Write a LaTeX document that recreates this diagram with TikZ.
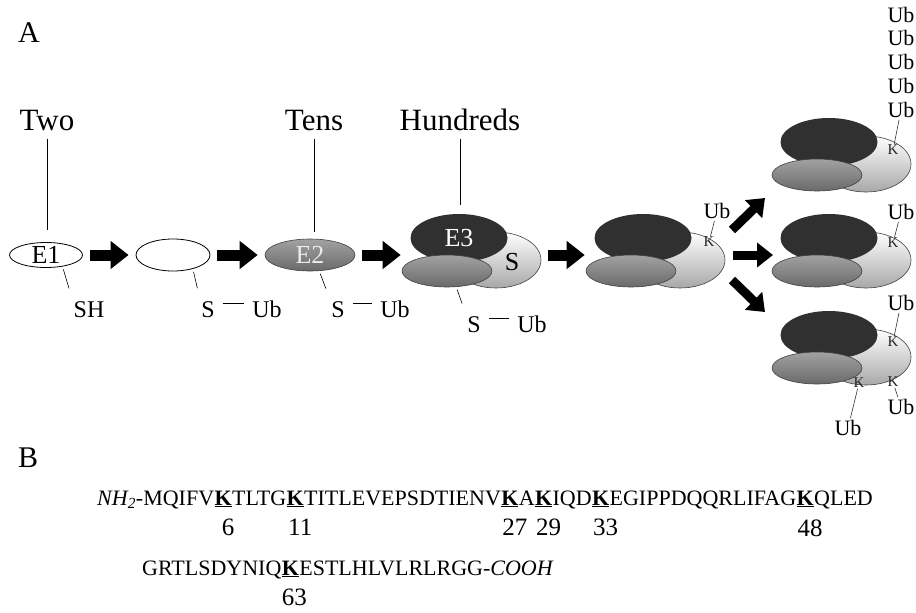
\documentclass[tikz,border=0pt]{standalone}
\usepackage{fontspec}
\setmainfont{Liberation Serif}
\usetikzlibrary{shapes.geometric, arrows.meta, positioning}
\definecolor{ligdark}{HTML}{303030}
\definecolor{conjdark}{HTML}{6A6A6A}
\definecolor{conjlight}{HTML}{A2A2A2}
\definecolor{subdark}{HTML}{A8A8A8}
\definecolor{edgegray}{HTML}{404040}

\tikzset{
  pics/complex/.style 2 args={code={
    \node[substrate] (-sub) at (37,22) {};
    \node[ligase] (-lig) at (0,0) {#1};
    \node[carrier] (-car) at (-12,33) {};
    \node[sublbl] (-slbl) at (53,24) {#2};
  }}
}

\begin{document}
\begin{tikzpicture}[
    x=1pt, y=-1pt,
    ligase/.style={ellipse, fill=ligdark, minimum width=97pt, minimum height=48pt, inner sep=0pt, text=white, font=\fontsize{26}{30}\selectfont},
    substrate/.style={ellipse, draw=edgegray, line width=0.6pt, top color=white, bottom color=subdark, minimum width=90pt, minimum height=56pt, inner sep=0pt},
    carrier/.style={ellipse, draw=edgegray, line width=0.6pt, top color=conjlight, bottom color=conjdark, minimum width=90pt, minimum height=32pt, inner sep=0pt},
    sublbl/.style={inner sep=0pt, font=\fontsize{26}{30}\selectfont},
    enzyme/.style={ellipse, draw, line width=0.8pt, fill=white, inner sep=0pt, font=\fontsize{26}{30}\selectfont},
    bigarrow/.style={line width=11pt, -{Triangle[length=18pt, width=27pt]}, shorten <=7pt, shorten >=7pt},
    forkarrow/.style={line width=9pt, -{Triangle[length=16pt, width=24pt]}},
    panel/.style={inner sep=0pt, font=\fontsize{30}{36}\selectfont},
    count/.style={inner sep=0pt, font=\fontsize{31}{37}\selectfont},
    site/.style={inner sep=1pt, font=\fontsize{24}{28}\selectfont},
    ubl/.style={inner sep=1pt, font=\fontsize{22}{26}\selectfont},
    lysk/.style={inner sep=0.5pt, text=black!85, font=\fontsize{15}{17}\selectfont},
    seq/.style={inner sep=0pt, anchor=base west, font=\fontsize{22}{26}\selectfont},
    lys/.style={seq, font=\fontsize{22}{26}\selectfont\bfseries},
    resnum/.style={inner sep=0pt, font=\fontsize{25}{30}\selectfont},
    stem/.style={line width=0.6pt},
    tick/.style={line width=0.6pt, shorten <=3pt, shorten >=12pt},
    bond/.style={line width=0.6pt, shorten <=7pt, shorten >=7pt},
    ktick/.style={line width=0.6pt, draw=black!80, shorten <=1pt, shorten >=0pt}
]
    \useasboundingbox (0,0) rectangle (916,613);

    % panel A
    \node[panel, anchor=base west] (pa) at (18,42) {A};
    \node[count, anchor=base] (two) at (47,130) {Two};
    \node[count, anchor=base] (tens) at (314,130) {Tens};
    \node[count, anchor=base] (hund) at (460,130) {Hundreds};

    \node[enzyme, minimum width=73pt, minimum height=25pt] (e1) at (46,255) {E1};
    \node[enzyme, minimum width=74pt, minimum height=32pt] (free) at (173,255) {};
    \node[carrier, text=white!92!black, font=\fontsize{26}{30}\selectfont] (e2) at (310,255) {E2};

    \pic (c1) at (459,238) {complex={E3}{S}};
    \pic (c2) at (643,238) {complex={}{}};
    \pic (c3) at (829,142) {complex={}{}};
    \pic (c4) at (829,238) {complex={}{}};
    \pic (c5) at (829,335) {complex={}{}};

    \draw[stem, shorten <=8pt, shorten >=12pt] (two.south) -- (two.south |- e1.north);
    \draw[stem, shorten <=8pt, shorten >=7pt] (tens.south) -- (tens.south |- e2.north);
    \draw[stem, shorten <=8pt, shorten >=9pt] (hund.south) -- (hund.south |- c1-lig.north);

    % thioester sites
    \node[site, anchor=base] (sh) at (89,317) {SH};
    \node[site, anchor=base] (s1) at (208,317) {S};
    \node[site, anchor=base] (u1) at (267,317) {Ub};
    \node[site, anchor=base] (s2) at (338,317) {S};
    \node[site, anchor=base] (u2) at (395,317) {Ub};
    \node[site, anchor=base] (s3) at (474,332) {S};
    \node[site, anchor=base] (u3) at (532,332) {Ub};

    \draw[tick] (e1.-35) -- (sh.north west);
    \draw[tick] (free.-35) -- (s1.north west);
    \draw[tick] (e2.-60) -- (s2.north west);
    \draw[tick] (c1-car.-60) -- (s3.north west);
    \draw[bond] ([yshift=14pt]s1.base east) -- ([yshift=14pt]u1.base west);
    \draw[bond] ([yshift=14pt]s2.base east) -- ([yshift=14pt]u2.base west);
    \draw[bond] ([yshift=14pt]s3.base east) -- ([yshift=14pt]u3.base west);

    % main cascade arrows
    \draw[bigarrow] (e1) -- (free);
    \draw[bigarrow] (free) -- (e2);
    \draw[bigarrow, shorten >=1pt] (e2.east) -- (e2.east -| c1-car.west);
    \draw[bigarrow, shorten >=1pt] (c1-sub.east |- e2.east) -- (c2-car.west |- e2.east);

    % branching to chains
    \coordinate (upS) at (732,230);
    \coordinate (upE) at (765,198);
    \coordinate (midS) at (733,255);
    \coordinate (midE) at (773,255);
    \coordinate (dnS) at (732,280);
    \coordinate (dnE) at (765,312);
    \draw[forkarrow] (upS) -- (upE);
    \draw[forkarrow] (midS) -- (midE);
    \draw[forkarrow] (dnS) -- (dnE);

    % lysines and ubiquitins
    \node[lysk] (kb) at (709,242) {K};
    \node[ubl] (ub) at (717,211) {Ub};
    \draw[ktick] (ub) -- (kb);

    \foreach \i/\yy in {1/15,2/38,3/62,4/86,5/110}
        \node[ubl] (ut\i) at (901,\yy) {Ub};
    \node[lysk] (kt) at (893,150) {K};
    \draw[ktick] (ut5) -- (kt);

    \node[lysk] (km) at (893,243) {K};
    \node[ubl] (um) at (901,212) {Ub};
    \draw[ktick] (um) -- (km);

    \node[lysk] (kd1) at (893,342) {K};
    \node[ubl] (ud1) at (901,303) {Ub};
    \draw[ktick] (ud1) -- (kd1);
    \node[lysk] (kd2) at (893,382) {K};
    \node[ubl] (ud2) at (901,407) {Ub};
    \draw[ktick] (ud2) -- (kd2);
    \node[lysk] (kd3) at (859,383) {K};
    \node[ubl] (ud3) at (848,428) {Ub};
    \draw[ktick] (ud3) -- (kd3);

    % panel B
    \node[panel, anchor=base west] (pb) at (18,467) {B};
    \node[seq] (r1) at (97,505) {\textit{NH\textsubscript{2}}-MQIFV};
    \node[lys] (k6) at (r1.base east) {\underline{K}};
    \node[seq] (r2) at (k6.base east) {TLTG};
    \node[lys] (k11) at (r2.base east) {\underline{K}};
    \node[seq] (r3) at (k11.base east) {TITLEVEPSDTIENV};
    \node[lys] (k27) at (r3.base east) {\underline{K}};
    \node[seq] (r4) at (k27.base east) {A};
    \node[lys] (k29) at (r4.base east) {\underline{K}};
    \node[seq] (r5) at (k29.base east) {IQD};
    \node[lys] (k33) at (r5.base east) {\underline{K}};
    \node[seq] (r6) at (k33.base east) {EGIPPDQQRLIFAG};
    \node[lys] (k48) at (r6.base east) {\underline{K}};
    \node[seq] (r7) at (k48.base east) {QLED};

    \node[resnum, below=12pt of k6, xshift=5pt] (n6) {6};
    \node[resnum, below=12pt of k11, xshift=5pt] (n11) {11};
    \node[resnum, below=12pt of k27, xshift=5pt] (n27) {27};
    \node[resnum, below=12pt of k29, xshift=5pt] (n29) {29};
    \node[resnum, below=12pt of k33, xshift=5pt] (n33) {33};
    \node[resnum, below=12pt of k48, xshift=5pt] (n48) {48};

    \node[seq] (r8) at (142,575) {GRTLSDYNIQ};
    \node[lys] (k63) at (r8.base east) {\underline{K}};
    \node[seq] (r9) at (k63.base east) {ESTLHLVLRLRGG-\textit{COOH}};
    \node[resnum, below=12pt of k63, xshift=4pt] (n63) {63};
\end{tikzpicture}
\end{document}
